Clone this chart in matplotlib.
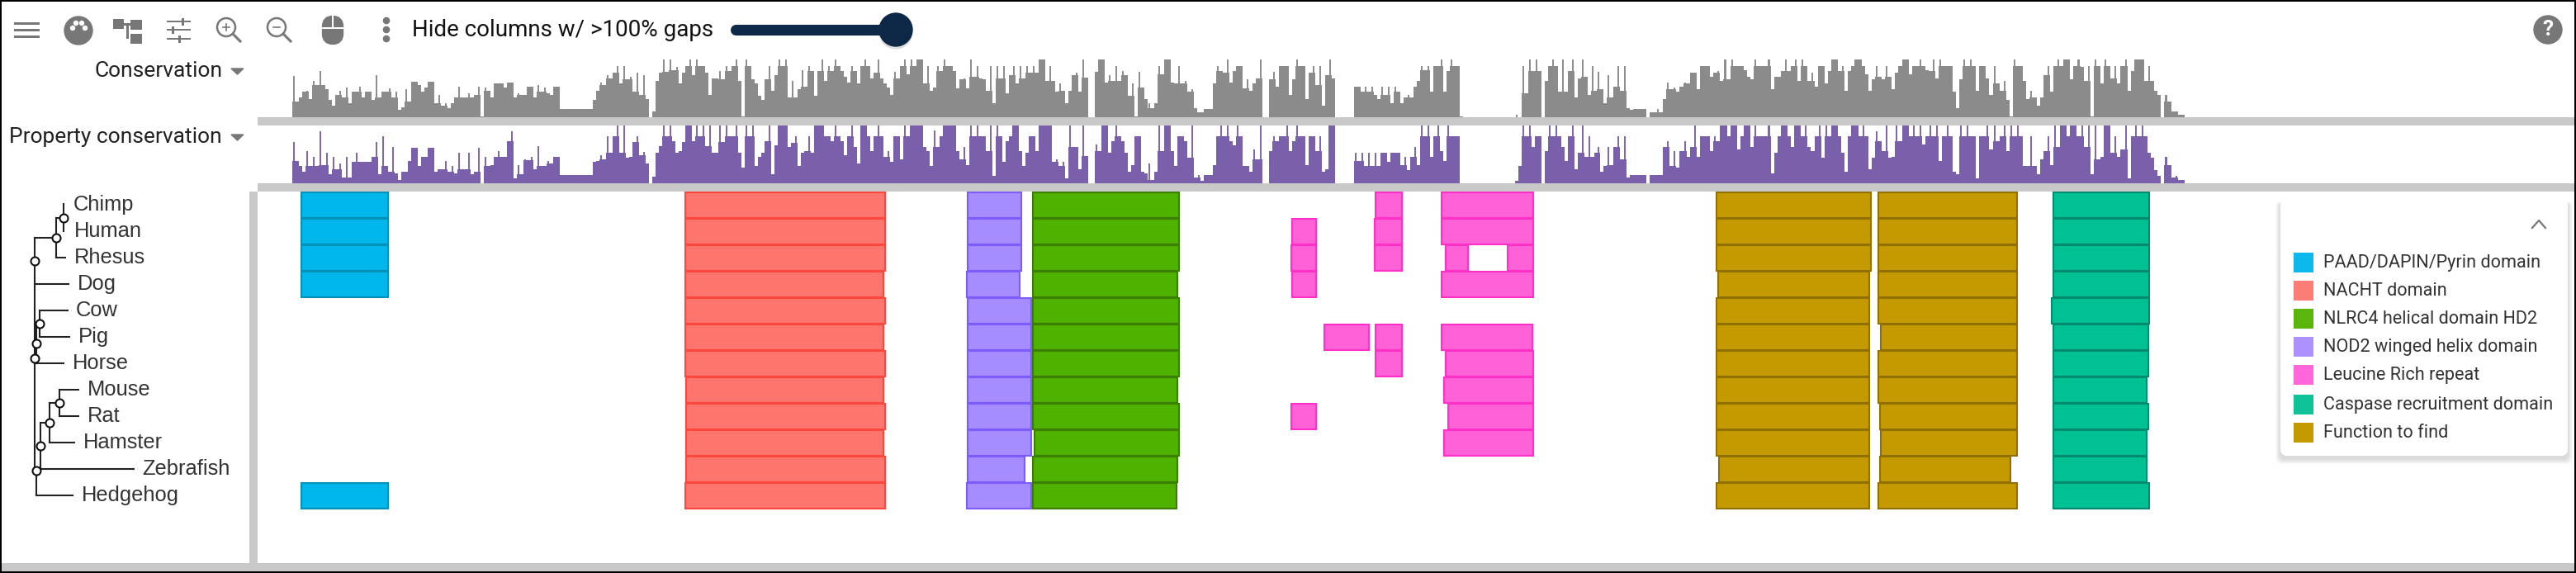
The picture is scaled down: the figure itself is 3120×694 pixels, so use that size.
import matplotlib
matplotlib.use("Agg")
import matplotlib.pyplot as plt
import numpy as np
from matplotlib.patches import Rectangle, Circle, FancyBboxPatch, Polygon

# track scores, 70 = full height of the track
cons_a = [50,19,24,31,32,22,44,39,56,39,34,21,14,27,32,24,36,17,31,31,37,24,31,31,21,51,24,31,31,35,24,31,9,12,34,19,43,43,39,31,36,43,43,17,27,14,17,11,17,24,37,24,24,29,24,27,37,1,36,32,24,41,41,41,36,42,42,24,29,27,27,37,37,24,39,31,36,29,27,37,37,10,10,10,10,10,10,10,10,10,10,21,32,42,39,51,47,54,62,41,62,46,49,31,54,27,51,22,0,7,44,54,70,55,70,57,61,41,54,62,70,51,70,62,62,54,27,47,47]
cons_b = [56,46,62,56,62,70,44,1,70,62,46,41,26,21,46,62,32,51,70,62,70,24,44,24,34,57,37,62,56,26,56,70,44,62,56,70,62,56,49,42,62,56,41,62,70,62,47,54,70,47,41,36,27,55,47,62,70,52,70,62,70,70,41,62,32,36,62,56,70,62,62,56,35,46,47,35,70,49,62,47,46,32,62,17,62,47,62,29,51,62,41,62,47,62,54,62,54,70,70,44,62,44,31,41,32,17,32,51,54,31,70,48,0,0,55,70,70,42,51,44,62,44,56,51,26,41,1,55,36,22]
cons_c = [17,11,17,62,52,70,70,42,41,62,41,44,31,34,11,6,6,10,10,10,41,62,56,54,70,42,56,62,62,35,46,32,41,47,70,0,0,46,55,37,62,62,62,27,46,70,62,62,22,54,62,39,62,14,51,70,47,0,0,0,0,0,0,37,37,31,37,31,37,27,22,37,27,37,17,37,31,17,24,27,24,37,44,62,57,62,31,62,62,70,31,56,70,62,62,1,0,0,0,0,0,0,0,0,0,0,0,0,0,0,0,0,3,0,62,29,70,56,70,56,0,44,62,70,62,31,70,31,56,70,24,47,70,49,27,62,32,55,34,17,51,24,37,62,32,62,11,9,10,10,10,10,0,6,6,10]
cons_d = [6,22,42,34,36,31,37,42,41,54,54,34,62,62,62,49,54,56,44,70,46,70,62,62,62,57,49,46,70,62,62,62,70,34,49,49,56,70,56,62,70,44,70,62,44,54,37,62,62,41,56,70,70,56,62,32,56,62,70,70,62,52,32,46,62,49,46,62,49,34,54,62,70,70,52,62,62,70,62,57,56,70,47,70,62,62,62,31,11,46,70,62,70,62,32,62,62,47,27,62,41,32,44,21,1,70,62,62,44,22,32,24,14,24,51,62,31,62,70,62,70,70,46,62,70,61,44,62,1,70,62,41,70,62,47,62,41,62,70,32,56,70,70,70,44,62,44,32,27,0,27,19,7,7,3,3,0]

prop_a = [50,27,21,14,39,21,32,21,63,22,37,11,32,17,24,7,32,7,26,37,26,26,26,26,32,50,11,57,21,14,44,12,4,14,14,27,43,43,21,32,32,43,43,14,17,17,27,14,21,12,37,17,17,37,11,14,43,0,32,21,22,32,39,32,32,51,63,6,22,11,29,28,32,17,45,21,21,27,24,32,32,10,10,10,10,10,10,10,10,10,10,26,27,34,29,57,37,57,70,37,70,31,32,50,57,34,38,24,0,8,37,45,70,57,70,51,37,39,50,70,70,51,70,57,70,45,70,37,37]
prop_b = [70,50,70,57,57,70,37,19,70,57,70,21,32,37,51,70,11,46,70,70,70,44,49,57,21,37,39,57,37,70,70,70,57,57,51,70,57,51,34,57,70,44,24,70,70,57,39,57,70,57,32,39,26,57,57,29,70,57,70,70,70,70,44,39,21,64,44,57,70,70,70,70,39,29,44,22,70,57,70,57,57,39,70,9,70,57,26,51,57,70,70,39,21,37,57,57,39,70,70,70,70,26,29,21,26,6,70,44,44,17,70,33,0,0,47,39,70,70,37,51,70,57,51,37,14,22,57,57,14,12]
prop_c = [24,4,14,70,39,70,70,39,21,57,57,51,31,70,7,10,3,10,10,10,22,57,70,57,70,51,46,70,57,21,21,14,41,29,70,0,0,39,57,51,57,57,70,39,51,70,57,57,22,57,57,39,57,14,17,70,70,0,0,0,0,0,0,37,27,37,21,37,21,37,21,37,37,26,37,37,37,22,32,16,32,44,22,70,57,70,32,57,70,39,27,70,57,57,57,0,0,0,0,0,0,0,0,0,0,0,0,0,0,0,0,0,3,21,70,57,70,44,57,57,0,39,70,57,70,57,44,27,57,70,17,37,70,32,57,32,37,44,14,21,44,22,44,57,29,57,7,10,10,10,10,10,0,10,10,10]
prop_d = [10,44,51,21,39,19,39,51,32,44,70,32,57,57,57,39,57,51,70,70,57,70,70,41,57,70,70,44,70,57,57,57,70,12,37,57,70,70,57,44,70,70,57,70,44,39,57,70,31,70,57,70,70,57,37,14,57,70,70,57,70,57,17,31,63,51,39,70,31,32,70,51,70,70,57,70,57,70,47,57,70,57,70,27,57,70,57,14,11,70,57,70,57,57,6,57,57,70,41,70,51,57,70,39,70,57,70,57,21,21,57,21,11,29,39,57,22,70,44,70,70,57,70,70,57,70,44,70,11,70,29,32,70,70,37,57,32,41,70,6,57,70,57,70,57,37,31,16,9,0,32,22,7,9,4,4,0]

chunk_edges = [0, 516, 1036, 1656, 2296]

# domains, one entry per sequence row, x in alignment position
species = ["Chimp", "Human", "Rhesus", "Dog", "Cow", "Pig", "Horse", "Mouse", "Rat", "Hamster", "Zebrafish", "Hedgehog"]

pyrin_rows = [0, 1, 2, 3, 11]
pyrin_start = [10, 10, 10, 10, 10]
pyrin_end = [117, 117, 117, 117, 117]

nacht_start = [475, 475, 475, 475, 475, 475, 475, 476, 476, 476, 476, 475]
nacht_end = [719, 719, 719, 717, 719, 717, 719, 717, 719, 717, 719, 719]

nod2_start = [817, 817, 817, 815.5, 817, 817, 817, 817, 817, 817, 817, 815.5]
nod2_end = [884, 884, 884, 882, 896, 896, 896, 896, 896, 896, 888, 896]

nlrc4_start = [896, 896, 896, 896, 896, 896, 896, 896, 896, 898, 896, 896]
nlrc4_end = [1075, 1075, 1075, 1073, 1075, 1075, 1075, 1073, 1075, 1075, 1073, 1071.5]

lrr_rows = [0, 0, 1, 1, 1, 2, 2, 2, 2, 3, 3, 5, 5, 5, 6, 6, 7, 8, 8, 9]
lrr_start = [1311, 1391, 1210, 1310, 1391, 1209, 1310, 1396, 1471, 1210, 1391, 1249, 1311, 1391, 1311, 1396, 1394, 1209, 1399, 1394]
lrr_end = [1345, 1504, 1241, 1345, 1504, 1241, 1345, 1425, 1504, 1241, 1504, 1305, 1345, 1503, 1345, 1504, 1504, 1241, 1504, 1504]

fn1_start = [1724, 1724, 1724, 1726, 1724, 1724, 1724, 1724, 1724, 1724, 1726.5, 1724]
fn1_end = [1913, 1913, 1913, 1911, 1911, 1911, 1911, 1911, 1911, 1911, 1911, 1911]
fn2_start = [1920, 1920, 1920, 1920, 1920, 1923, 1920, 1920, 1921.5, 1923, 1921.5, 1920]
fn2_end = [2090, 2090, 2090, 2090, 2090, 2090, 2090, 2089.6, 2089.6, 2089.6, 2082, 2090]

card_start = [2132, 2132, 2132, 2132, 2130, 2132, 2132, 2132, 2132, 2132, 2132, 2132]
card_end = [2250, 2250, 2250, 2250, 2250, 2249, 2249, 2247, 2249, 2247, 2247, 2250]

legend_labels = ["PAAD/DAPIN/Pyrin domain", "NACHT domain", "NLRC4 helical domain HD2", "NOD2 winged helix domain",
                 "Leucine Rich repeat", "Caspase recruitment domain", "Function to find"]
legend_colors = ["#0db8ec", "#fb7d75", "#5ab50d", "#ac90ff", "#ff66d9", "#0fc297", "#c49a00"]

W, H = 3120, 694
GREY = "#c8c8c8"
ICON = "#777777"

fig = plt.figure(figsize=(W / 100, H / 100), dpi=100, facecolor="white")


def px_axes(x0, y0, x1, y1):
    # axes placed by picture pixels, y from the top
    a = fig.add_axes([x0 / W, 1 - y1 / H, (x1 - x0) / W, (y1 - y0) / H])
    a.axis("off")
    return a


ui = px_axes(0, 0, W, H)
ui.set_xlim(0, W)
ui.set_ylim(H, 0)


def box(x0, y0, x1, y1, color, **kw):
    ui.add_patch(Rectangle((x0, y0), x1 - x0, y1 - y0, facecolor=color, edgecolor="none", **kw))


# frame and splitters
box(312, 142, 3118, 152, GREY)
box(312, 222, 3118, 232, GREY)
box(302, 232, 312, 682, GREY)
box(2, 682, 3118, 692, GREY)
box(0, 0, W, 2, "black")
box(0, 692, W, H, "black")
box(0, 0, 2, H, "black")
box(3118, 0, W, H, "black")


def draw_track(y0, y1, chunks, color, spike_color):
    ax = px_axes(0, y0, W, y1)
    ax.set_xlim(-354, W - 354)
    ax.set_ylim(0, 70)
    for i, vals in enumerate(chunks):
        w = (chunk_edges[i + 1] - chunk_edges[i]) / len(vals)
        xs = chunk_edges[i] + (np.arange(len(vals)) + 0.5) * w
        v = np.array(vals)
        # peaks stay thin, the solid body only goes up to the lower neighbour
        ax.bar(xs, v, width=w * 0.5, color=spike_color, linewidth=0)
        body = np.minimum(v, np.maximum(np.r_[v[1:], 0], np.r_[0, v[:-1]]))
        ax.bar(xs, body, width=w, color=color, linewidth=0)


draw_track(72, 142, [cons_a, cons_b, cons_c, cons_d], "#8b8b8b", "#8f8f8f")
draw_track(152, 222, [prop_a, prop_b, prop_c, prop_d], "#7a5fab", "#8068b0")

# domains
msa = px_axes(0, 232, W, 682)
msa.set_xlim(-354, W - 354)
msa.set_ylim(450 / 32, 0)


def draw_domain(rows, starts, ends, fill, edge):
    for r, s, e in zip(rows, starts, ends):
        msa.add_patch(Rectangle((s + 1, r + 0.02), e - s - 2, 0.98, facecolor=fill, edgecolor=edge, linewidth=1.5))


all_rows = list(range(12))
draw_domain(pyrin_rows, pyrin_start, pyrin_end, "#00b7eb", "#0090b8")
draw_domain(all_rows, nacht_start, nacht_end, "#fd756d", "#f8483f")
draw_domain(all_rows, nod2_start, nod2_end, "#a58cff", "#7d5cff")
draw_domain(all_rows, nlrc4_start, nlrc4_end, "#4fb100", "#3a7f00")
draw_domain(lrr_rows, lrr_start, lrr_end, "#ff61d6", "#ff2fc8")
draw_domain(all_rows, fn1_start, fn1_end, "#c49a00", "#8f7000")
draw_domain(all_rows, fn2_start, fn2_end, "#c49a00", "#8f7000")
draw_domain(all_rows, card_start, card_end, "#00c193", "#008c6c")

# tree
tree_lines = [
    (77, 247, 77, 280), (68, 264, 77, 264), (68, 264, 68, 312), (68, 312, 79, 312),
    (42, 288, 68, 288), (42, 288, 42, 440), (42, 344, 83, 344), (48, 376, 82, 376),
    (48, 376, 48, 408), (48, 408, 84, 408), (44, 392, 48, 392), (44, 392, 44, 440),
    (42, 440, 77, 440), (42, 440, 42, 568), (72, 472, 95, 472), (72, 472, 72, 504),
    (72, 504, 95, 504), (60, 488, 72, 488), (60, 488, 60, 536), (60, 536, 90, 536),
    (49, 512, 60, 512), (49, 512, 49, 568), (44, 568, 162, 568), (44, 570, 44, 600),
    (44, 600, 88, 600),
]
tree_nodes = [(77, 264), (68, 288), (42, 316), (48, 392), (44, 416), (42, 434),
              (72, 488), (60, 512), (49, 540), (44, 570)]
for x0, y0, x1, y1 in tree_lines:
    ui.plot([x0, x1], [y0, y1], color="#222222", lw=1.5, solid_capstyle="projecting")
ui.scatter([n[0] for n in tree_nodes], [n[1] for n in tree_nodes], s=52, c="white", edgecolors="#111111",
           linewidths=1.5, zorder=4)

label_x = [89, 90, 90, 94, 92, 95, 88, 106, 106, 101, 172, 99]
for i, name in enumerate(species):
    ui.text(label_x[i], 248 + 32 * i, name, fontsize=18.4, family="Liberation Sans", color="#333333",
            va="center", ha="left")

# toolbar
for y in (28, 36, 44):
    box(17, y - 1.5, 48, y + 1.5, ICON)
ui.add_patch(Circle((95, 37), 17, color=ICON))
for dx, dy in ((-7, -3), (-3, -9), (4, -9), (8, -3)):
    ui.add_patch(Circle((95 + dx, 37 + dy), 2.5, color="white"))
box(137, 23, 150, 35, ICON)
box(158, 24, 172, 36, ICON)
box(158, 41, 172, 53, ICON)
box(150, 28, 158, 31, ICON)
box(153, 28, 156, 47, ICON)
for y, x0, x1 in ((26, 202, 231), (36, 202, 231), (47, 202, 231)):
    box(x0, y - 1.2, x1, y + 1.2, ICON)
box(220, 22, 223, 31, ICON)
box(208, 32, 211, 41, ICON)
box(216, 43, 219, 52, ICON)
for cx, sign in ((274, "+"), (335, "-")):
    ui.add_patch(Circle((cx, 33), 11, facecolor="white", edgecolor=ICON, linewidth=1.8))
    ui.plot([cx + 8, cx + 17], [41, 50], color=ICON, lw=2.2)
    ui.plot([cx - 4, cx + 4], [33, 33], color=ICON, lw=1.2)
    if sign == "+":
        ui.plot([cx, cx], [29, 37], color=ICON, lw=1.2)
ui.add_patch(FancyBboxPatch((394, 23), 18, 27, boxstyle="round,pad=0,rounding_size=9", facecolor=ICON, edgecolor=ICON,
                            linewidth=6))
box(402, 18, 404, 34, "white")
box(390, 33, 416, 35, "white")
for y in (25, 36, 47):
    ui.add_patch(Circle((468, y), 3.6, color=ICON))

ui.text(499, 36, "Hide columns w/ >100% gaps", fontsize=20, family="Roboto", color="#111111", va="center", ha="left")
ui.plot([891, 1085], [36, 36], color="#0d2847", lw=9.4, solid_capstyle="round")
ui.add_patch(Circle((1085, 39), 20, color="#999999", alpha=0.25))
ui.add_patch(Circle((1085, 36), 20, color="#0d2847"))
ui.add_patch(Circle((3086, 36), 17, color=ICON))
ui.text(3086, 36, "?", fontsize=19, family="Roboto", fontweight="bold", color="white", va="center", ha="center")

# track labels
ui.text(269, 86, "Conservation", fontsize=19, family="Roboto", color="#222222", va="center", ha="right")
ui.text(269, 166, "Property conservation", fontsize=19, family="Roboto", color="#222222", va="center", ha="right")
for y in (83, 163):
    ui.add_patch(Polygon([(280, y), (295, y), (287.5, y + 7)], color=ICON))

# legend
for i in range(6):
    grow = 2 * (6 - i)
    ui.add_patch(FancyBboxPatch((2762 - grow / 2, 240 + 4), 348 + grow, 312 + grow / 2,
                                boxstyle="round,pad=0,rounding_size=8", facecolor="#000000", edgecolor="none",
                                alpha=0.025))
ui.add_patch(FancyBboxPatch((2762, 240), 348, 312, boxstyle="round,pad=0,rounding_size=8", facecolor="white",
                            edgecolor="none"))
ui.plot([3067, 3075, 3083], [276, 267, 276], color=ICON, lw=1.6)
legend_y = [318, 352, 386, 420, 454, 490, 524]
for y, lab, col in zip(legend_y, legend_labels, legend_colors):
    box(2778, y - 12, 2802, y + 12, col)
    ui.text(2814, y, lab, fontsize=15.6, family="Roboto", color="#333333", va="center", ha="left")

fig.savefig("out.png", dpi=100, facecolor="white")
